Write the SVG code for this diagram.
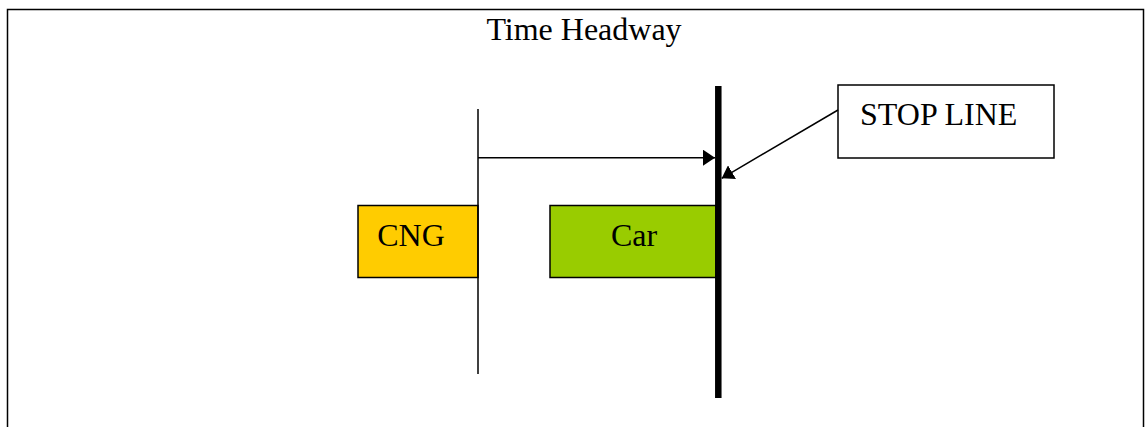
<svg xmlns="http://www.w3.org/2000/svg" width="1145" height="427" viewBox="0 0 1145 427">
<defs>
<style>
text{font-family:"Liberation Serif","Times New Roman",serif;font-size:32px;fill:#000}
.box{stroke:#000;stroke-width:1.5}
.ln{stroke:#000;stroke-width:1.5;fill:none}
</style>
<marker id="ah" markerWidth="12" markerHeight="16" refX="12" refY="8" orient="auto" markerUnits="userSpaceOnUse">
<path d="M0,0 L12,8 L0,16 Z" fill="#000"/>
</marker>
</defs>
<rect width="1145" height="427" fill="#fff"/>
<path d="M7.5,430 V9.5 H1143.5 V430" class="ln" stroke-width="2"/>
<text x="584" y="40" text-anchor="middle" font-size="31">Time Headway</text>
<g id="cng">
<rect x="358" y="205.5" width="120" height="72" fill="#FFCC00" class="box"/>
<text x="411" y="246" text-anchor="middle">CNG</text>
</g>
<g id="car">
<rect x="550" y="205.5" width="166" height="72" fill="#99CC00" class="box"/>
<text x="634" y="246" text-anchor="middle">Car</text>
</g>
<g id="stopline-box">
<rect x="838" y="85" width="216" height="73" fill="#fff" class="box"/>
<text x="860" y="125">STOP LINE</text>
</g>
<g id="stopline">
<line x1="718.3" y1="86" x2="718.3" y2="398" stroke="#000" stroke-width="6.5"/>
</g>
<g id="connectors">
<line x1="478" y1="109" x2="478" y2="374" class="ln"/>
<line x1="478" y1="157.7" x2="715" y2="157.7" class="ln" marker-end="url(#ah)"/>
<line x1="838" y1="110" x2="721.7" y2="178.3" class="ln" marker-end="url(#ah)"/>
</g>
</svg>
